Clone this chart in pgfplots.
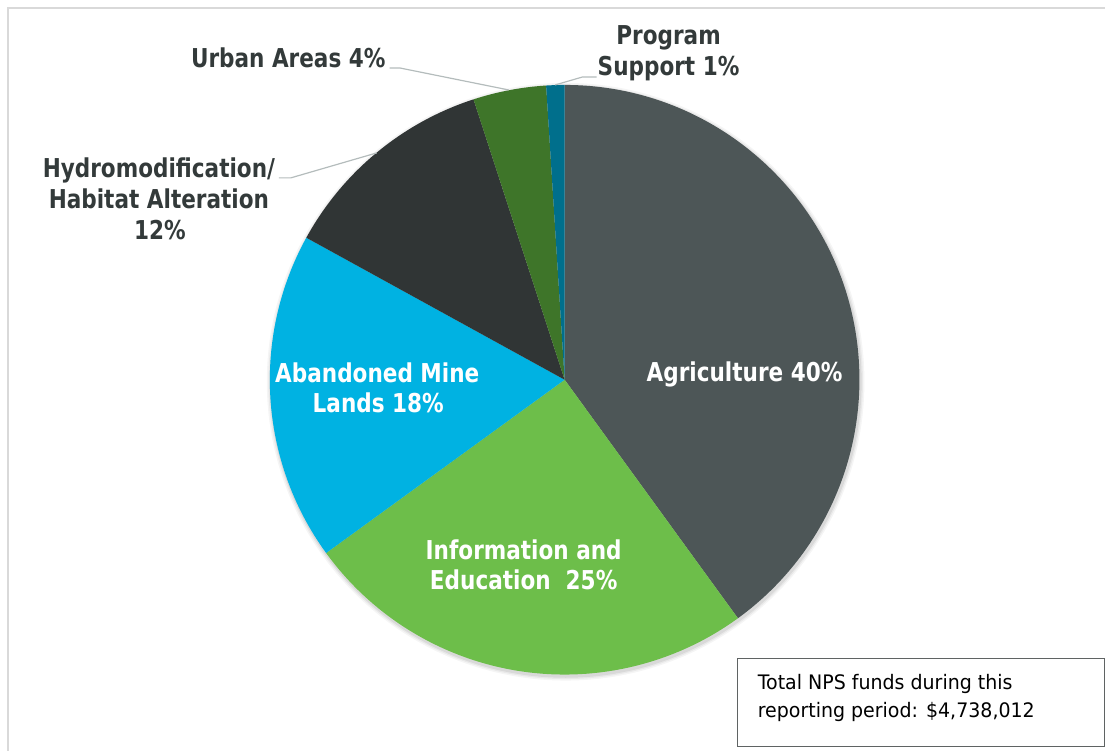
\documentclass[border=0pt]{standalone}
\usepackage{pgfplots}
\pgfplotsset{compat=1.18}
\usepackage{pgfplotstable}
\usepackage{fontspec}
\setmainfont{DejaVu Sans}
\newfontfamily\labfont{DejaVu Sans}[FakeStretch=0.83]
\newfontfamily\boxfont{DejaVu Sans}[FakeStretch=0.95]

\definecolor{pie0}{HTML}{4D5657}
\definecolor{pie1}{HTML}{6DBE4A}
\definecolor{pie2}{HTML}{00B2E2}
\definecolor{pie3}{HTML}{303535}
\definecolor{pie4}{HTML}{3E7529}
\definecolor{pie5}{HTML}{006F8C}
\definecolor{labdark}{HTML}{333A3A}
\definecolor{leader}{HTML}{B4BCBC}
\definecolor{frame}{HTML}{D9D9D9}
\definecolor{boxline}{HTML}{5F6363}

\tikzset{lab/.style={font=\labfont\fontsize{19.5}{23.25}\selectfont\bfseries, inner sep=0pt}}

% share of NPS funds, per cent, clockwise from 12 o'clock
\pgfplotstableread{
label share
Agriculture 40
InformationEducation 25
AbandonedMineLands 18
Hydromodification 12
UrbanAreas 4
ProgramSupport 1
}\piedata

\def\R{221.25pt}% 295 px radius

\begin{document}
\begin{tikzpicture}
\begin{axis}[
  x=0.75pt, y=0.75pt, y dir=reverse,
  xmin=0, xmax=1106, ymin=0, ymax=751,
  hide axis, clip=false,
]
\pgfplotsextra{
  \path (axis cs:0,0) rectangle (axis cs:1106,751);
  % frame
  \draw[frame, line width=1.1pt] (axis cs:8,751) -- (axis cs:8,8) -- (axis cs:1106,8);
  % soft shadow
  \foreach \k/\op in {4/0.04,2.5/0.05,1.2/0.07}{
    \fill[black, opacity=\op] (axis cs:566,382) circle[radius=\R+\k*0.75pt];
  }
  % slices
  \gdef\cum{0}
  \pgfplotstablegetrowsof{\piedata}
  \pgfmathtruncatemacro{\nlast}{\pgfplotsretval-1}
  \foreach \i in {0,...,\nlast}{
    \pgfplotstablegetelem{\i}{share}\of\piedata
    \let\s\pgfplotsretval
    \pgfmathsetmacro{\aS}{90-3.6*\cum}
    \pgfmathsetmacro{\aE}{90-3.6*(\cum+\s)}
    \pgfmathsetmacro{\newcum}{\cum+\s}
    \xdef\cum{\newcum}
    \fill[pie\i] (axis cs:565,380) -- ++(\aS:\R) arc[start angle=\aS, end angle=\aE, radius=\R] -- cycle;
  }
  % leader lines
  \draw[leader, line width=0.9pt] (axis cs:390,68) -- (axis cs:400,68) -- (axis cs:509,90);
  \draw[leader, line width=0.9pt] (axis cs:555.5,85) -- (axis cs:583,77) -- (axis cs:597,77);
  \draw[leader, line width=0.9pt] (axis cs:279,178) -- (axis cs:291,178) -- (axis cs:377,153);
  % outside labels
  \node[lab, text=labdark, anchor=base] at (axis cs:669,45) {Program};
  \node[lab, text=labdark, anchor=base] at (axis cs:669,76) {Support 1\%};
  \node[lab, text=labdark, anchor=base east] at (axis cs:386,68) {Urban Areas 4\%};
  \node[lab, text=labdark, anchor=base] at (axis cs:159,178) {Hydromodification/};
  \node[lab, text=labdark, anchor=base] at (axis cs:159,209) {Habitat Alteration};
  \node[lab, text=labdark, anchor=base] at (axis cs:160,240) {12\%};
  % inside labels
  \node[lab, text=white, anchor=base] at (axis cs:745,382) {Agriculture 40\%};
  \node[lab, text=white, anchor=base] at (axis cs:377.5,383) {Abandoned Mine};
  \node[lab, text=white, anchor=base] at (axis cs:378.5,413) {Lands 18\%};
  \node[lab, text=white, anchor=base] at (axis cs:524,560) {Information and};
  \node[lab, text=white, anchor=base] at (axis cs:524,590) {Education\ \ 25\%};
  % total box
  \fill[white] (axis cs:738,659) rectangle (axis cs:1105,747);
  \draw[boxline, line width=1.1pt] (axis cs:738,659) rectangle (axis cs:1105,747);
  \node[font=\boxfont\fontsize{15}{21}\selectfont, anchor=base west, inner sep=0pt] at (axis cs:758,690) {Total NPS funds during this};
  \node[font=\boxfont\fontsize{15}{21}\selectfont, anchor=base west, inner sep=0pt] at (axis cs:758,718) {reporting period: \$4,738,012};
}
\end{axis}
\end{tikzpicture}
\end{document}
